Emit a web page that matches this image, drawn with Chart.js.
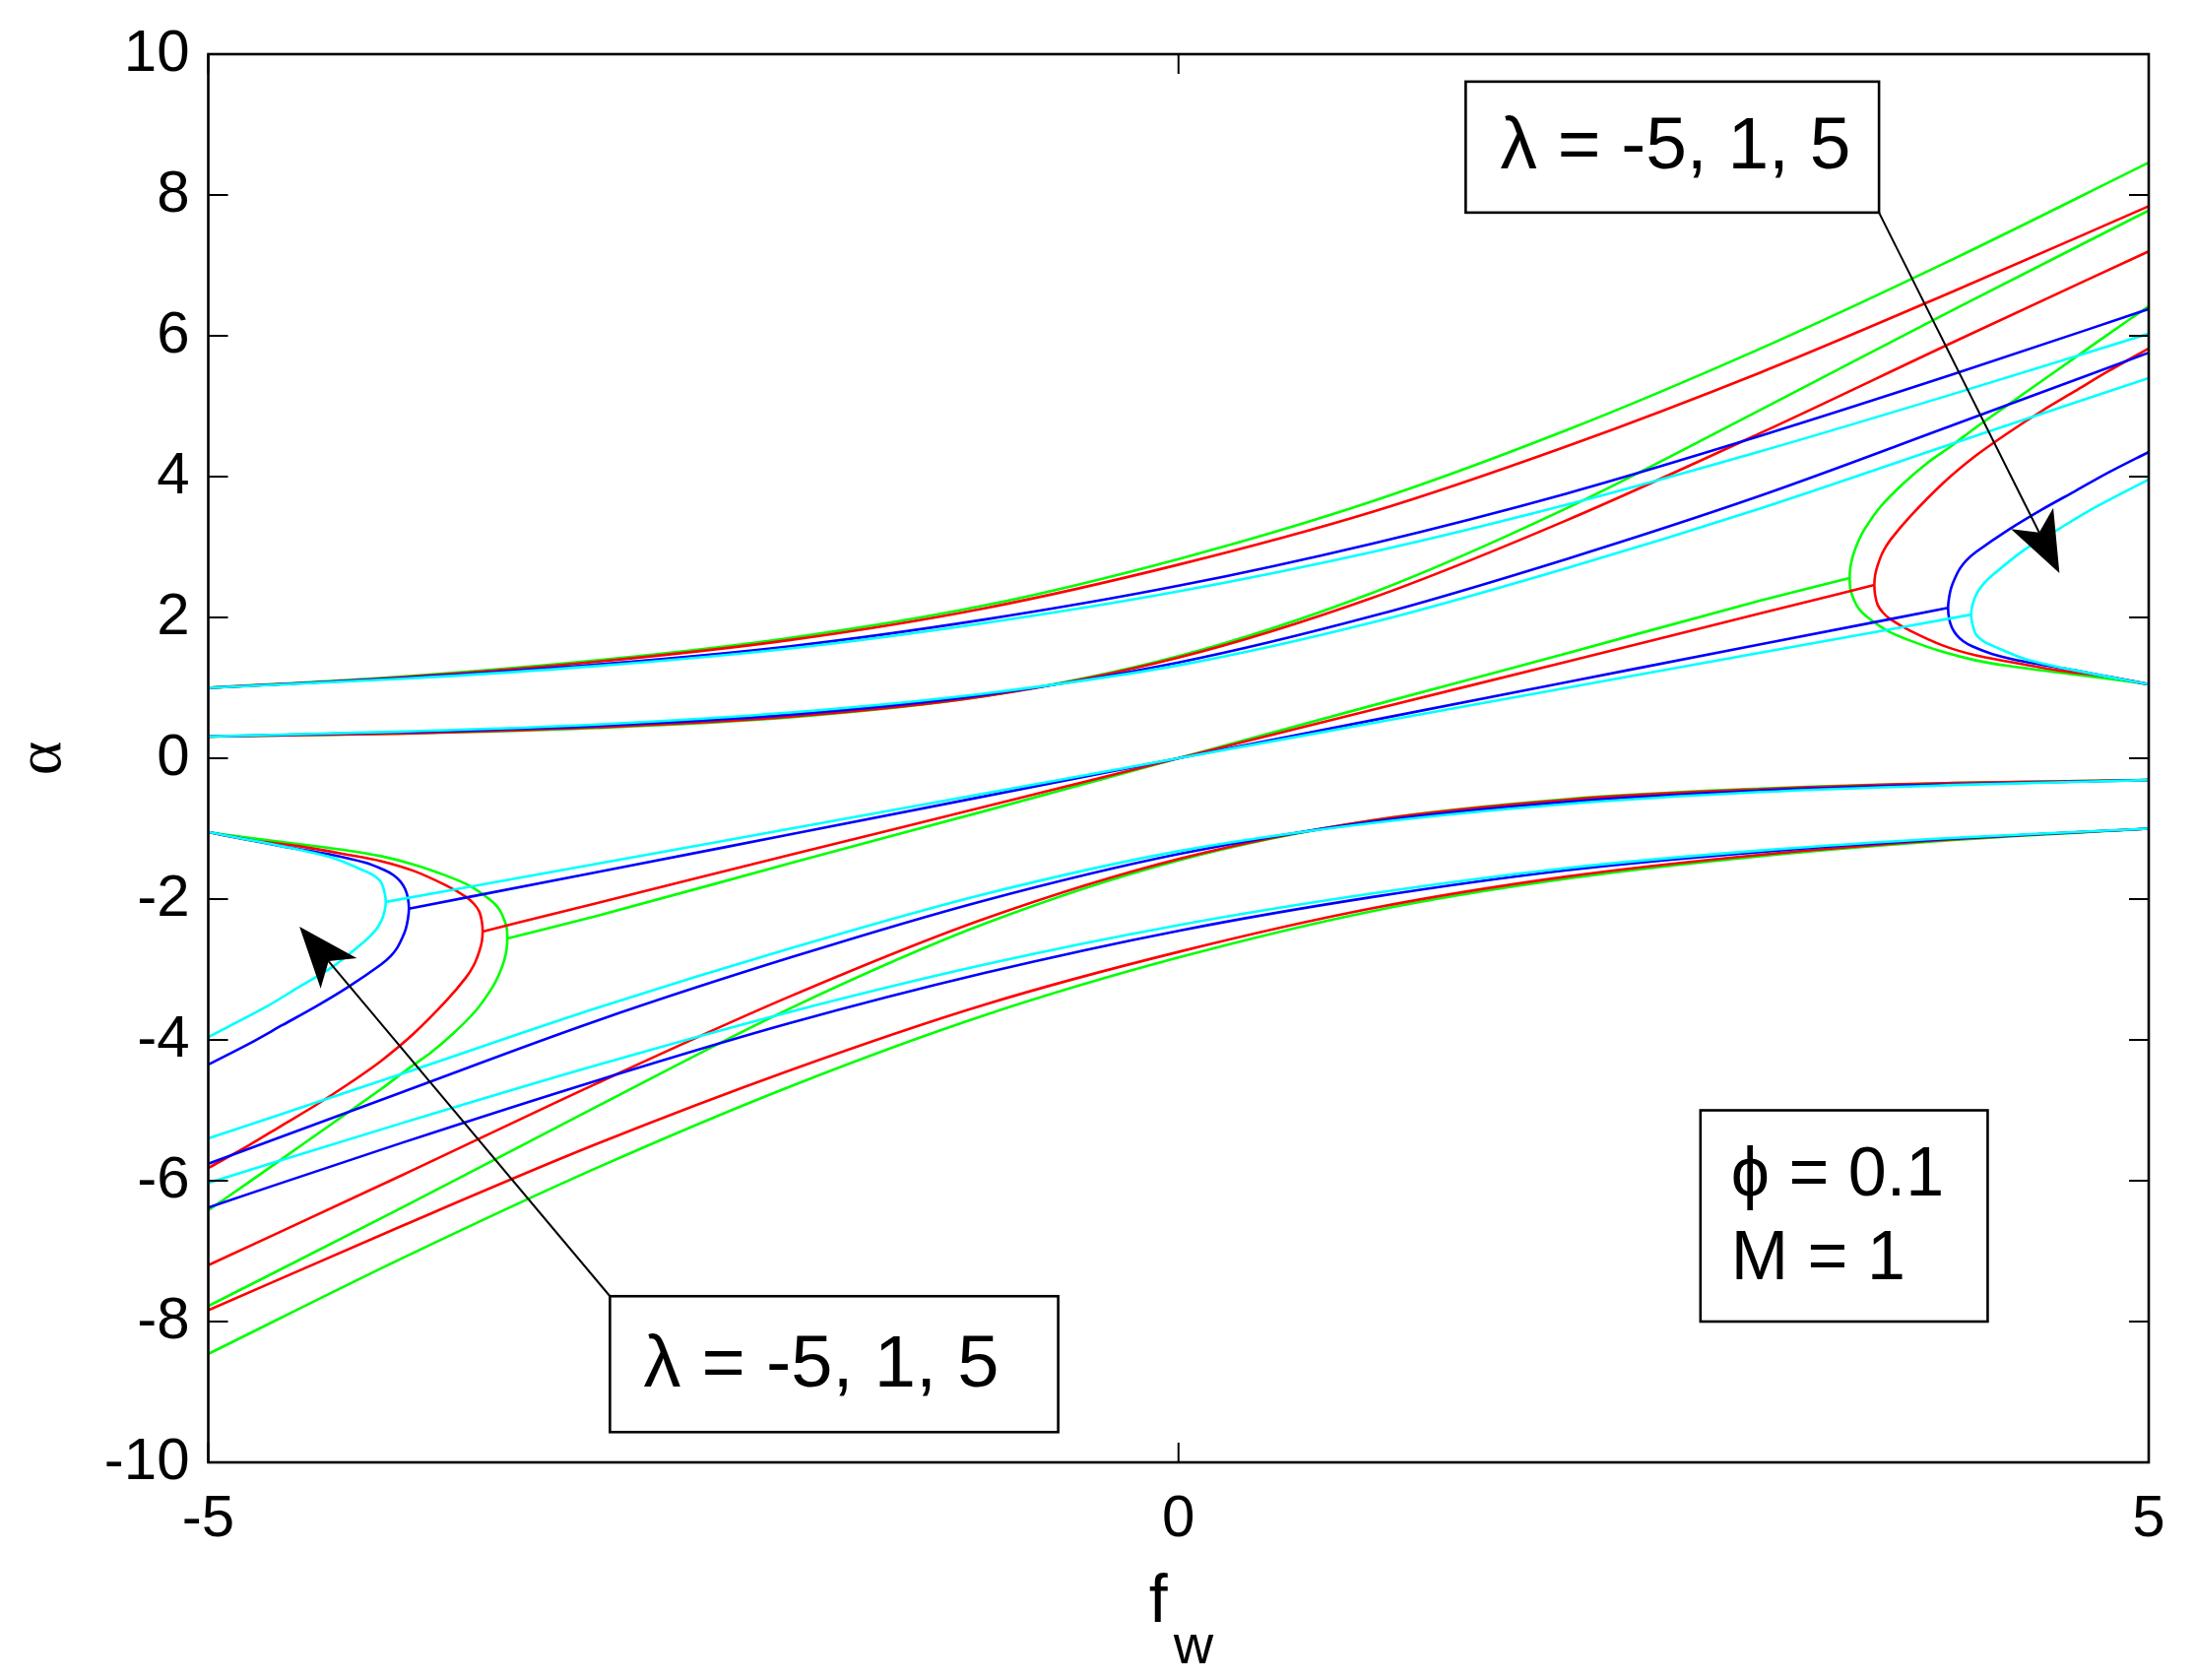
<!DOCTYPE html>
<html>
<head>
<meta charset="utf-8">
<script src="https://cdn.jsdelivr.net/npm/chart.js@4.4.1/dist/chart.umd.min.js"></script>
<style>
  html, body { margin: 0; padding: 0; background: #fff; }
  canvas { display: block; }
</style>
</head>
<body>
<canvas id="chart" width="2229" height="1706"></canvas>
<script>
// axis ticks
const xTicks = [-5, 0, 5];
const yTicks = [-10, -8, -6, -4, -2, 0, 2, 4, 6, 8, 10];

// f_w samples for the long branches
const fw = [-5, -4, -3, -2, -1, 0, 1, 2, 3, 4, 5];

// outer upper branches (leave alpha ~ 1 at f_w = -5)
const outerUpGreen = [1.0, 1.16, 1.39, 1.71, 2.17, 2.83, 3.65, 4.66, 5.82, 7.1, 8.46];
const outerUpRed   = [1.0, 1.15, 1.37, 1.68, 2.13, 2.75, 3.5, 4.43, 5.48, 6.64, 7.84];
const outerUpBlue  = [1.0, 1.14, 1.33, 1.59, 1.97, 2.45, 3.05, 3.76, 4.58, 5.46, 6.38];
const outerUpCyan  = [1.0, 1.13, 1.31, 1.56, 1.92, 2.37, 2.93, 3.6, 4.36, 5.18, 6.03];

// inner upper branches (leave alpha ~ 0.3 at f_w = -5)
const innerUpGreen = [0.31, 0.35, 0.43, 0.58, 0.88, 1.45, 2.35, 3.55, 4.95, 6.38, 7.78];
const innerUpRed   = [0.31, 0.35, 0.44, 0.59, 0.88, 1.43, 2.28, 3.38, 4.62, 5.92, 7.2];
const innerUpBlue  = [0.31, 0.37, 0.46, 0.62, 0.9, 1.36, 2.02, 2.83, 3.73, 4.74, 5.76];
const innerUpCyan  = [0.31, 0.38, 0.48, 0.65, 0.92, 1.32, 1.93, 2.7, 3.55, 4.48, 5.4];

// outer lower branches
const outerLowGreen = [-8.46, -7.1, -5.82, -4.66, -3.65, -2.83, -2.17, -1.71, -1.39, -1.16, -1.0];
const outerLowRed   = [-7.84, -6.64, -5.48, -4.43, -3.5, -2.75, -2.13, -1.68, -1.37, -1.15, -1.0];
const outerLowBlue  = [-6.38, -5.46, -4.58, -3.76, -3.05, -2.45, -1.97, -1.59, -1.33, -1.14, -1.0];
const outerLowCyan  = [-6.03, -5.18, -4.36, -3.6, -2.93, -2.37, -1.92, -1.56, -1.31, -1.13, -1.0];

// inner lower branches
const innerLowGreen = [-7.78, -6.38, -4.95, -3.55, -2.35, -1.45, -0.88, -0.58, -0.43, -0.35, -0.31];
const innerLowRed   = [-7.2, -5.92, -4.62, -3.38, -2.28, -1.43, -0.88, -0.59, -0.44, -0.35, -0.31];
const innerLowBlue  = [-5.76, -4.74, -3.73, -2.83, -2.02, -1.36, -0.9, -0.62, -0.46, -0.37, -0.31];
const innerLowCyan  = [-5.4, -4.48, -3.55, -2.7, -1.93, -1.32, -0.92, -0.65, -0.48, -0.38, -0.31];

// branches through the origin, ending on the turning points
const originGreenX = [-3.459, -3, -2, -1, 0, 1, 2, 3, 3.459];
const originGreenY = [-2.56, -2.24, -1.49, -0.75, 0, 0.75, 1.49, 2.24, 2.56];
const originRedX   = [-3.586, -3, -2, -1, 0, 1, 2, 3, 3.586];
const originRedY   = [-2.46, -2.06, -1.37, -0.69, 0, 0.69, 1.37, 2.06, 2.46];
const originBlueX  = [-3.966, -3, -2, -1, 0, 1, 2, 3, 3.966];
const originBlueY  = [-2.135, -1.62, -1.08, -0.54, 0, 0.54, 1.08, 1.62, 2.135];
const originCyanX  = [-4.085, -3, -2, -1, 0, 1, 2, 3, 4.085];
const originCyanY  = [-2.04, -1.5, -1.0, -0.5, 0, 0.5, 1.0, 1.5, 2.04];

// right-hand turning (C shaped) branches, upper arm end -> vertex -> lower arm end
const turnRGreenX = [5, 4.79, 4.62, 4.45, 4.28, 4.11, 3.975, 3.857, 3.738, 3.62, 3.535, 3.5, 3.476, 3.463, 3.459, 3.463, 3.484, 3.51, 3.552, 3.654, 3.772, 3.941, 4.11, 4.28, 4.53, 4.79, 5];
const turnRGreenY = [6.42, 6.02, 5.69, 5.36, 5.03, 4.7, 4.42, 4.19, 3.91, 3.58, 3.25, 3.06, 2.88, 2.72, 2.56, 2.4, 2.23, 2.11, 2.0, 1.81, 1.67, 1.51, 1.39, 1.31, 1.22, 1.13, 1.05];
const turnRRedX   = [5, 4.787, 4.618, 4.448, 4.28, 4.11, 3.941, 3.772, 3.671, 3.63, 3.603, 3.59, 3.586, 3.59, 3.603, 3.63, 3.671, 3.772, 3.941, 4.11, 4.28, 4.53, 4.787, 5];
const turnRRedY   = [5.82, 5.49, 5.21, 4.93, 4.63, 4.3, 3.91, 3.44, 3.11, 2.93, 2.74, 2.6, 2.46, 2.32, 2.18, 2.07, 1.97, 1.81, 1.6, 1.46, 1.37, 1.25, 1.16, 1.05];
const turnRBlueX  = [5, 4.787, 4.618, 4.448, 4.28, 4.11, 4.06, 4.026, 4.0, 3.982, 3.971, 3.966, 3.971, 3.985, 4.01, 4.045, 4.09, 4.195, 4.364, 4.618, 5];
const turnRBlueY  = [4.35, 4.05, 3.79, 3.53, 3.25, 2.93, 2.81, 2.69, 2.55, 2.42, 2.28, 2.135, 1.99, 1.86, 1.75, 1.66, 1.59, 1.48, 1.37, 1.25, 1.05];
const turnRCyanX  = [5, 4.702, 4.533, 4.364, 4.195, 4.14, 4.11, 4.092, 4.085, 4.092, 4.11, 4.15, 4.195, 4.364, 4.618, 5];
const turnRCyanY  = [3.96, 3.53, 3.25, 2.97, 2.6, 2.45, 2.32, 2.18, 2.04, 1.9, 1.76, 1.66, 1.6, 1.41, 1.25, 1.05];

// left-hand turning branches
const turnLGreenX = [-5, -4.79, -4.62, -4.45, -4.28, -4.11, -3.975, -3.857, -3.738, -3.62, -3.535, -3.5, -3.476, -3.463, -3.459, -3.463, -3.484, -3.51, -3.552, -3.654, -3.772, -3.941, -4.11, -4.28, -4.53, -4.79, -5];
const turnLGreenY = [-6.42, -6.02, -5.69, -5.36, -5.03, -4.7, -4.42, -4.19, -3.91, -3.58, -3.25, -3.06, -2.88, -2.72, -2.56, -2.4, -2.23, -2.11, -2.0, -1.81, -1.67, -1.51, -1.39, -1.31, -1.22, -1.13, -1.05];
const turnLRedX   = [-5, -4.787, -4.618, -4.448, -4.28, -4.11, -3.941, -3.772, -3.671, -3.63, -3.603, -3.59, -3.586, -3.59, -3.603, -3.63, -3.671, -3.772, -3.941, -4.11, -4.28, -4.53, -4.787, -5];
const turnLRedY   = [-5.82, -5.49, -5.21, -4.93, -4.63, -4.3, -3.91, -3.44, -3.11, -2.93, -2.74, -2.6, -2.46, -2.32, -2.18, -2.07, -1.97, -1.81, -1.6, -1.46, -1.37, -1.25, -1.16, -1.05];
const turnLBlueX  = [-5, -4.787, -4.618, -4.448, -4.28, -4.11, -4.06, -4.026, -4.0, -3.982, -3.971, -3.966, -3.971, -3.985, -4.01, -4.045, -4.09, -4.195, -4.364, -4.618, -5];
const turnLBlueY  = [-4.35, -4.05, -3.79, -3.53, -3.25, -2.93, -2.81, -2.69, -2.55, -2.42, -2.28, -2.135, -1.99, -1.86, -1.75, -1.66, -1.59, -1.48, -1.37, -1.25, -1.05];
const turnLCyanX  = [-5, -4.702, -4.533, -4.364, -4.195, -4.14, -4.11, -4.092, -4.085, -4.092, -4.11, -4.15, -4.195, -4.364, -4.618, -5];
const turnLCyanY  = [-3.96, -3.53, -3.25, -2.97, -2.6, -2.45, -2.32, -2.18, -2.04, -1.9, -1.76, -1.66, -1.6, -1.41, -1.25, -1.05];

const COLORS = { green: '#00ff00', red: '#ff0000', blue: '#0000ff', cyan: '#00ffff' };
const FONT = '"Liberation Sans", Arial, sans-serif';

function pts(xs, ys) {
  return xs.map((x, i) => ({ x: x, y: ys[i] }));
}

function branch(xs, ys, color, turning) {
  return {
    data: pts(xs, ys),
    borderColor: COLORS[color],
    borderWidth: 2.6,
    pointRadius: 0,
    fill: false,
    tension: turning ? 0.3 : 0,
    cubicInterpolationMode: turning ? 'default' : 'monotone'
  };
}

// cyan first so it ends up drawn on top
const datasets = [
  branch(fw, outerUpCyan, 'cyan'), branch(fw, innerUpCyan, 'cyan'),
  branch(fw, outerLowCyan, 'cyan'), branch(fw, innerLowCyan, 'cyan'),
  branch(originCyanX, originCyanY, 'cyan'),
  branch(turnRCyanX, turnRCyanY, 'cyan', true), branch(turnLCyanX, turnLCyanY, 'cyan', true),

  branch(fw, outerUpBlue, 'blue'), branch(fw, innerUpBlue, 'blue'),
  branch(fw, outerLowBlue, 'blue'), branch(fw, innerLowBlue, 'blue'),
  branch(originBlueX, originBlueY, 'blue'),
  branch(turnRBlueX, turnRBlueY, 'blue', true), branch(turnLBlueX, turnLBlueY, 'blue', true),

  branch(fw, outerUpRed, 'red'), branch(fw, innerUpRed, 'red'),
  branch(fw, outerLowRed, 'red'), branch(fw, innerLowRed, 'red'),
  branch(originRedX, originRedY, 'red'),
  branch(turnRRedX, turnRRedY, 'red', true), branch(turnLRedX, turnLRedY, 'red', true),

  branch(fw, outerUpGreen, 'green'), branch(fw, innerUpGreen, 'green'),
  branch(fw, outerLowGreen, 'green'), branch(fw, innerLowGreen, 'green'),
  branch(originGreenX, originGreenY, 'green'),
  branch(turnRGreenX, turnRGreenY, 'green', true), branch(turnLGreenX, turnLGreenY, 'green', true)
];

// text boxes, placed in data units: [x0, yTop, x1, yBottom], arrow tip, corner the arrow leaves from
const notes = [
  { lines: ['λ = -5, 1, 5'], box: [1.48, 9.61, 3.61, 7.75], tip: [4.54, 2.63], from: 'br', size: 74, width: 356, inset: 35, base: [88] },
  { lines: ['λ = -5, 1, 5'], box: [-2.93, -7.64, -0.62, -9.57], tip: [-4.53, -2.39], from: 'tl', size: 74, width: 361, inset: 34, base: [92] },
  { lines: ['ϕ = 0.1', 'M = 1'], box: [2.69, -5.0, 4.17, -8.0], size: 70, inset: 31, base: [86, 171] }
];

function drawArrow(ctx, x0, y0, x1, y1) {
  const ang = Math.atan2(y1 - y0, x1 - x0);
  const ux = Math.cos(ang), uy = Math.sin(ang);
  const px = -uy, py = ux;
  const L = 62, W = 24, N = 16;
  ctx.beginPath();
  ctx.moveTo(x0, y0);
  ctx.lineTo(x1 - (L - N) * ux, y1 - (L - N) * uy);
  ctx.stroke();
  ctx.beginPath();
  ctx.moveTo(x1, y1);
  ctx.lineTo(x1 - L * ux + W * px, y1 - L * uy + W * py);
  ctx.lineTo(x1 - (L - N) * ux, y1 - (L - N) * uy);
  ctx.lineTo(x1 - L * ux - W * px, y1 - L * uy - W * py);
  ctx.closePath();
  ctx.fill();
}

const axesBox = {
  id: 'axesBox',
  afterDatasetsDraw(chart) {
    const { ctx, chartArea: a, scales: { x, y } } = chart;
    ctx.save();
    ctx.strokeStyle = '#000';
    ctx.fillStyle = '#000';

    // inward ticks on all four sides
    ctx.lineWidth = 2;
    ctx.beginPath();
    yTicks.forEach(v => {
      const py = y.getPixelForValue(v);
      ctx.moveTo(a.left, py); ctx.lineTo(a.left + 20, py);
      ctx.moveTo(a.right, py); ctx.lineTo(a.right - 20, py);
    });
    xTicks.forEach(v => {
      const px = x.getPixelForValue(v);
      ctx.moveTo(px, a.bottom); ctx.lineTo(px, a.bottom - 20);
      ctx.moveTo(px, a.top); ctx.lineTo(px, a.top + 20);
    });
    ctx.stroke();

    ctx.lineWidth = 2.6;
    ctx.strokeRect(a.left, a.top, a.right - a.left, a.bottom - a.top);

    // annotation boxes and arrows
    notes.forEach(n => {
      const bx0 = x.getPixelForValue(n.box[0]), by0 = y.getPixelForValue(n.box[1]);
      const bx1 = x.getPixelForValue(n.box[2]), by1 = y.getPixelForValue(n.box[3]);
      if (n.tip) {
        ctx.lineWidth = 2;
        const sx = n.from === 'br' ? bx1 : bx0;
        const sy = n.from === 'br' ? by1 : by0;
        drawArrow(ctx, sx, sy, x.getPixelForValue(n.tip[0]), y.getPixelForValue(n.tip[1]));
      }
      ctx.fillStyle = '#fff';
      ctx.fillRect(bx0, by0, bx1 - bx0, by1 - by0);
      ctx.lineWidth = 2.6;
      ctx.strokeRect(bx0, by0, bx1 - bx0, by1 - by0);
      ctx.fillStyle = '#000';
      ctx.font = n.size + 'px ' + FONT;
      ctx.textBaseline = 'alphabetic';
      ctx.textAlign = 'left';
      n.lines.forEach((t, i) => {
        const tx = bx0 + n.inset, ty = by0 + n.base[i];
        if (n.width) {
          const k = n.width / ctx.measureText(t).width;
          ctx.save();
          ctx.translate(tx, ty);
          ctx.scale(k, 1);
          ctx.fillText(t, 0, 0);
          ctx.restore();
        } else {
          ctx.fillText(t, tx, ty);
        }
      });
    });

    // x label: f with subscript w
    const cx = x.getPixelForValue(0);
    ctx.font = '68px ' + FONT;
    ctx.fillText('f', cx - 30, 1647);
    ctx.font = '56px ' + FONT;
    ctx.fillText('w', cx - 5, 1689);
    ctx.restore();
  }
};

new Chart(document.getElementById('chart'), {
  type: 'line',
  data: { datasets: datasets },
  options: {
    responsive: false,
    animation: false,
    devicePixelRatio: 1,
    layout: { padding: { left: 0, right: 47, top: 54, bottom: 0 } },
    plugins: { legend: { display: false }, tooltip: { enabled: false } },
    scales: {
      x: {
        type: 'linear',
        min: -5, max: 5,
        afterBuildTicks: s => { s.ticks = xTicks.map(v => ({ value: v })); },
        afterFit: s => { s.height = 221; },
        grid: { display: false, drawTicks: false },
        border: { display: false },
        ticks: { autoSkip: false, maxRotation: 0, padding: 22, color: '#000', font: { family: FONT, size: 60 } }
      },
      y: {
        type: 'linear',
        min: -10, max: 10,
        afterBuildTicks: s => { s.ticks = yTicks.map(v => ({ value: v })); },
        afterFit: s => { s.width = 211.5; },
        grid: { display: false, drawTicks: false },
        border: { display: false },
        title: { display: true, text: 'α', color: '#000', padding: { top: 4, bottom: 0 }, font: { family: '"Liberation Serif", "DejaVu Serif", serif', size: 66 } },
        ticks: { autoSkip: false, padding: 19, color: '#000', font: { family: FONT, size: 60 } }
      }
    }
  },
  plugins: [axesBox]
});
</script>
</body>
</html>
